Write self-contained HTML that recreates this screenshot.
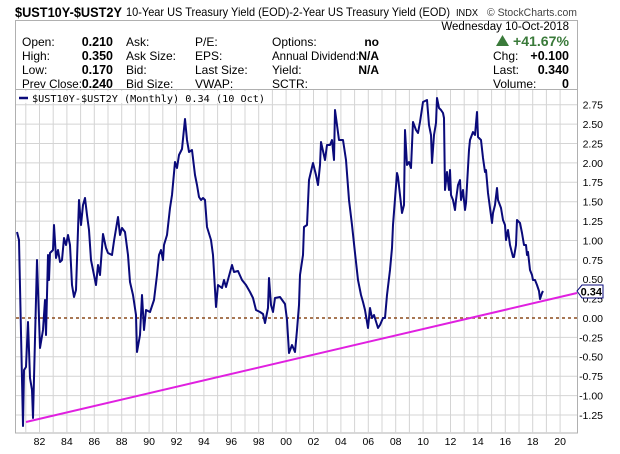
<!DOCTYPE html>
<html><head><meta charset="utf-8"><style>
body{margin:0;background:#fff;width:620px;height:449px;overflow:hidden;font-family:"Liberation Sans",sans-serif}
</style></head><body>
<svg width="620" height="449" xmlns="http://www.w3.org/2000/svg" font-family="Liberation Sans, sans-serif">
<text x="15" y="17" font-size="14" font-weight="bold" fill="#000" textLength="107" lengthAdjust="spacingAndGlyphs">$UST10Y-$UST2Y</text>
<text x="126" y="16" font-size="12" fill="#000" textLength="324" lengthAdjust="spacingAndGlyphs">10-Year US Treasury Yield (EOD)-2-Year US Treasury Yield (EOD)</text>
<text x="456" y="16" font-size="10" fill="#000" textLength="22" lengthAdjust="spacingAndGlyphs">INDX</text>
<text x="487" y="16" font-size="11" fill="#444" textLength="90" lengthAdjust="spacingAndGlyphs">© StockCharts.com</text>
<rect x="15.5" y="20.5" width="562" height="412.5" fill="none" stroke="#b0b0b0"/>
<line x1="15" y1="89.5" x2="578" y2="89.5" stroke="#b0b0b0"/>
<g font-size="12" fill="#000">
<text x="569" y="30" text-anchor="end" font-size="11.5">Wednesday  10-Oct-2018</text>
<text x="22" y="46">Open:</text><text x="22" y="60">High:</text><text x="22" y="74">Low:</text><text x="22" y="88" textLength="60" lengthAdjust="spacingAndGlyphs">Prev Close:</text>
<g font-weight="bold" font-size="12.5"><text x="113" y="46" text-anchor="end">0.210</text><text x="113" y="60" text-anchor="end">0.350</text><text x="113" y="74" text-anchor="end">0.170</text><text x="113" y="88" text-anchor="end">0.240</text></g>
<text x="126" y="46">Ask:</text><text x="126" y="60">Ask Size:</text><text x="126" y="74">Bid:</text><text x="126" y="88">Bid Size:</text>
<text x="195" y="46">P/E:</text><text x="195" y="60">EPS:</text><text x="195" y="74">Last Size:</text><text x="195" y="88">VWAP:</text>
<text x="272" y="46">Options:</text><text x="272" y="60" textLength="87" lengthAdjust="spacingAndGlyphs">Annual Dividend:</text><text x="272" y="74">Yield:</text><text x="272" y="88">SCTR:</text>
<g font-weight="bold"><text x="379" y="46" text-anchor="end">no</text><text x="379" y="60" text-anchor="end">N/A</text><text x="379" y="74" text-anchor="end">N/A</text></g>
<text x="493" y="60">Chg:</text><text x="493" y="74">Last:</text><text x="493" y="88">Volume:</text>
<g font-weight="bold" font-size="12.5"><text x="569" y="60" text-anchor="end">+0.100</text><text x="569" y="74" text-anchor="end">0.340</text><text x="569" y="88" text-anchor="end">0</text></g>
<path d="M496 46 L502.5 35 L509 46Z" fill="#3a7a3a"/>
<text x="569" y="46" text-anchor="end" font-weight="bold" font-size="14" fill="#3a7a3a" textLength="56" lengthAdjust="spacingAndGlyphs">+41.67%</text>
</g>
<g stroke="#d4d4d4" stroke-width="1">
<line x1="16" y1="104.7" x2="577" y2="104.7"/><line x1="16" y1="124.1" x2="577" y2="124.1"/><line x1="16" y1="143.5" x2="577" y2="143.5"/><line x1="16" y1="162.9" x2="577" y2="162.9"/><line x1="16" y1="182.3" x2="577" y2="182.3"/><line x1="16" y1="201.7" x2="577" y2="201.7"/><line x1="16" y1="221.1" x2="577" y2="221.1"/><line x1="16" y1="240.5" x2="577" y2="240.5"/><line x1="16" y1="259.9" x2="577" y2="259.9"/><line x1="16" y1="279.3" x2="577" y2="279.3"/><line x1="16" y1="298.7" x2="577" y2="298.7"/><line x1="16" y1="337.4" x2="577" y2="337.4"/><line x1="16" y1="356.8" x2="577" y2="356.8"/><line x1="16" y1="376.2" x2="577" y2="376.2"/><line x1="16" y1="395.6" x2="577" y2="395.6"/><line x1="16" y1="415" x2="577" y2="415"/>
</g>
<g stroke="#d4d4d4">
<line x1="25.8" y1="90" x2="25.8" y2="433"/><line x1="39.5" y1="90" x2="39.5" y2="433"/><line x1="53.2" y1="90" x2="53.2" y2="433"/><line x1="66.9" y1="90" x2="66.9" y2="433"/><line x1="80.6" y1="90" x2="80.6" y2="433"/><line x1="94.3" y1="90" x2="94.3" y2="433"/><line x1="108" y1="90" x2="108" y2="433"/><line x1="121.7" y1="90" x2="121.7" y2="433"/><line x1="135.4" y1="90" x2="135.4" y2="433"/><line x1="149.1" y1="90" x2="149.1" y2="433"/><line x1="162.8" y1="90" x2="162.8" y2="433"/><line x1="176.5" y1="90" x2="176.5" y2="433"/><line x1="190.2" y1="90" x2="190.2" y2="433"/><line x1="203.9" y1="90" x2="203.9" y2="433"/><line x1="217.6" y1="90" x2="217.6" y2="433"/><line x1="231.3" y1="90" x2="231.3" y2="433"/><line x1="245" y1="90" x2="245" y2="433"/><line x1="258.7" y1="90" x2="258.7" y2="433"/><line x1="272.4" y1="90" x2="272.4" y2="433"/><line x1="286.1" y1="90" x2="286.1" y2="433"/><line x1="299.8" y1="90" x2="299.8" y2="433"/><line x1="313.5" y1="90" x2="313.5" y2="433"/><line x1="327.2" y1="90" x2="327.2" y2="433"/><line x1="340.9" y1="90" x2="340.9" y2="433"/><line x1="354.6" y1="90" x2="354.6" y2="433"/><line x1="368.3" y1="90" x2="368.3" y2="433"/><line x1="382" y1="90" x2="382" y2="433"/><line x1="395.7" y1="90" x2="395.7" y2="433"/><line x1="409.4" y1="90" x2="409.4" y2="433"/><line x1="423.1" y1="90" x2="423.1" y2="433"/><line x1="436.8" y1="90" x2="436.8" y2="433"/><line x1="450.5" y1="90" x2="450.5" y2="433"/><line x1="464.2" y1="90" x2="464.2" y2="433"/><line x1="477.9" y1="90" x2="477.9" y2="433"/><line x1="491.6" y1="90" x2="491.6" y2="433"/><line x1="505.3" y1="90" x2="505.3" y2="433"/><line x1="519" y1="90" x2="519" y2="433"/><line x1="532.7" y1="90" x2="532.7" y2="433"/><line x1="546.4" y1="90" x2="546.4" y2="433"/><line x1="560.1" y1="90" x2="560.1" y2="433"/>
</g>
<line x1="16" y1="318" x2="577" y2="318" stroke="#8b4a1c" stroke-width="1.5" stroke-dasharray="3,3"/>
<line x1="26" y1="422" x2="577" y2="293" stroke="#e020e0" stroke-width="2"/>
<polyline fill="none" stroke="#0a0a7a" stroke-width="2" stroke-linejoin="round" points="17,232 19,240 23,426 24,370 26,367 28,322 30,378 32,390 33,418 37,260 40,348 43,330 45,300 46,335 48,255 49,280 50,253 53,250 54,225 56,258 58,250 60,262 62,260 64,238 66,245 68,235 70,245 72,285 74,297 76,290 79,200 81,225 83,205 85,198 87,215 89,230 91,260 96,285 98,265 100,275 103,234 106,248 108,253 112,255 114,241 118,217 120,235 122,228 125,232 128,255 130,282 133,295 136,315 137,352 140,335 142,295 144,330 146,310 150,312 154,300 157,275 159,255 161,250 163,260 164,245 167,235 170,208 172,195 175,162 177,168 179,155 182,149 185,119 187,140 189,152 192,150 195,175 197,185 199,197 201,200 203,198 205,200 207,227 211,240 213,255 216,307 218,285 222,288 224,280 226,287 232,265 234,272 238,271 242,280 246,285 250,292 253,298 256,310 260,312 263,314 265,323 268,308 269,278 271,305 273,312 275,298 280,297 285,304 287,320 289,353 292,345 295,352 297,330 299,305 300,275 303,255 304,227 307,225 309,180 313,163 316,175 318,185 320,165 321,142 325,160 327,145 330,145 332,140 334,160 335,110 337,125 339,140 343,140 346,160 349,200 352,225 355,253 358,280 361,295 363,302 365,310 368,328 370,308 372,318 374,315 378,328 380,325 383,318 385,318 387,295 390,270 392,248 393,225 397,173 398,177 402,213 404,205 405,130 407,165 409,162 411,168 413,122 416,130 418,133 420,122 423,102 425,101 427,100 429,125 431,135 432,163 434,135 436,123 437,98 439,108 441,110 443,113 444,118 445,190 447,172 449,190 450,170 451,195 453,200 455,210 456,200 458,185 460,180 461,200 463,190 465,210 466,203 469,150 470,140 473,132 475,135 477,112 478,137 481,140 483,158 485,172 486,170 488,193 492,223 493,213 495,205 497,188 498,200 501,208 503,220 505,225 506,240 508,230 510,245 513,257 514,257 516,245 517,220 520,223 522,233 524,245 526,245 527,255 528,252 530,270 532,275 533,280 535,280 537,285 539,291 540,299 542,293 543,291"/>
<rect x="16" y="91" width="250" height="12" fill="#fff" opacity="0.85"/>
<line x1="19" y1="98" x2="28" y2="98" stroke="#0a0a7a" stroke-width="2.5"/>
<text x="32" y="102" font-family="DejaVu Sans Mono, monospace" font-size="10" fill="#000" textLength="233" lengthAdjust="spacingAndGlyphs">$UST10Y-$UST2Y (Monthly) 0.34 (10 Oct)</text>
<g font-size="10.5" fill="#000" text-anchor="end">
<text x="603" y="108.5">2.75</text><text x="603" y="128">2.50</text><text x="603" y="147.4">2.25</text><text x="603" y="166.8">2.00</text><text x="603" y="186.2">1.75</text><text x="603" y="205.6">1.50</text><text x="603" y="225">1.25</text><text x="603" y="244.4">1.00</text><text x="603" y="263.8">0.75</text><text x="603" y="283.2">0.50</text><text x="603" y="302.6">0.25</text><text x="603" y="321.9">0.00</text><text x="603" y="341.3">-0.25</text><text x="603" y="360.7">-0.50</text><text x="603" y="380.1">-0.75</text><text x="603" y="399.5">-1.00</text><text x="603" y="418.9">-1.25</text>
</g>
<path d="M577 291 L582 285 L603 285 L603 298 L582 298 Z" fill="#fff" stroke="#0a0a7a"/>
<text x="602" y="295.5" font-size="11" font-weight="bold" text-anchor="end" fill="#000">0.34</text>
<g font-size="10.5" fill="#000" text-anchor="middle">
<text x="39.5" y="445">82</text><text x="66.9" y="445">84</text><text x="94.3" y="445">86</text><text x="121.7" y="445">88</text><text x="149.1" y="445">90</text><text x="176.5" y="445">92</text><text x="203.9" y="445">94</text><text x="231.3" y="445">96</text><text x="258.7" y="445">98</text><text x="286.1" y="445">00</text><text x="313.5" y="445">02</text><text x="340.9" y="445">04</text><text x="368.3" y="445">06</text><text x="395.7" y="445">08</text><text x="423.1" y="445">10</text><text x="450.5" y="445">12</text><text x="477.9" y="445">14</text><text x="505.3" y="445">16</text><text x="532.7" y="445">18</text><text x="560.1" y="445">20</text>
</g>
</svg>
</body></html>
